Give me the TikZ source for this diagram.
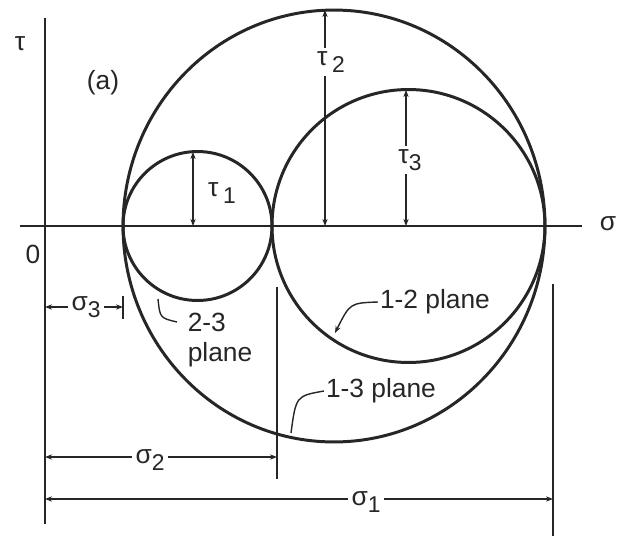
\documentclass[tikz,border=0pt]{standalone}
\usepackage{fontspec}
\setmainfont{Liberation Sans}
\usetikzlibrary{positioning, arrows.meta, calc}
\newcommand{\lo}[1]{\raisebox{-0.5ex}{\fontsize{13}{15}\selectfont #1}}

\begin{document}
\begin{tikzpicture}[
  x=0.02cm, y=-0.02cm,
  axis/.style={line width=0.9pt, draw=black!85},
  circ/.style={line width=1.7pt, draw=black!85},
  dim/.style={line width=0.7pt, draw=black!85,
              {Stealth[length=4pt,width=3pt]}-{Stealth[length=4pt,width=3pt]}},
  ext/.style={line width=0.7pt, draw=black!85},
  lead/.style={line width=0.8pt, draw=black!85},
  lbl/.style={font=\fontsize{15}{17}\selectfont, text=black!85, inner sep=1pt},
  cut/.style={lbl, fill=white, inner sep=2pt},
]
  \useasboundingbox (0,0) rectangle (627,545);

  % axes
  \coordinate (O) at (45,226);
  \coordinate (sEnd) at (582,226);
  \coordinate (sBeg) at (20,226);
  \coordinate (tTop) at (45,18);
  \coordinate (tBot) at (45,524);
  \draw[axis] (sBeg) -- (sEnd);
  \draw[axis] (tBot) -- (tTop);
  \node[lbl] (tau) at (20,44) {τ};
  \node[lbl] (sig) at (608,224) {σ};
  \node[lbl] (zero) at (33,254) {0};
  \node[lbl] (fa) at (103,83) {(a)};

  % Mohr circles
  \coordinate (c23) at (197.5,226);
  \coordinate (c12) at (408.5,226);
  \coordinate (c13) at (334,226);
  \draw[circ] (c13) ellipse[x radius=4.22cm, y radius=4.32cm];
  \draw[circ] (c12) circle[radius=2.73cm];
  \draw[circ] (c23) circle[radius=1.49cm];

  % shear stress radii
  \coordinate (t1a) at (193,152);
  \coordinate (t1b) at (193,226);
  \coordinate (t2a) at (325,10);
  \coordinate (t2b) at (325,226);
  \coordinate (t3a) at (406,90);
  \coordinate (t3b) at (406,226);
  \draw[dim] (t1a) -- (t1b);
  \draw[dim] (t2a) -- (t2b);
  \draw[dim] (t3a) -- (t3b);
  \node[lbl] (tau1) at (222,193) {τ\,\lo{1}};
  \node[cut] (tau2) at (331,62) {τ\,\lo{2}};
  \node[cut] (tau3) at (410,160) {τ\lo{3}};

  % normal stress dimensions
  \coordinate (s3a) at (45,307);
  \coordinate (s3b) at (123,307);
  \draw[dim] (s3a) -- (s3b);
  \draw[ext] (123,296) -- (123,319);
  \node[cut] (sig3) at (86,307) {σ\lo{3}};

  \coordinate (x2a) at (277,287);
  \coordinate (x2b) at (277,479);
  \draw[ext] (x2a) -- (x2b);
  \coordinate (s2a) at (45,457);
  \coordinate (s2b) at (277,457);
  \draw[dim] (s2a) -- (s2b);
  \node[cut] (sig2) at (150,460) {σ\lo{2}};

  \coordinate (x1a) at (553,284);
  \coordinate (x1b) at (553,536);
  \draw[ext] (x1a) -- (x1b);
  \coordinate (s1a) at (45,499);
  \coordinate (s1b) at (553,499);
  \draw[dim] (s1a) -- (s1b);
  \node[cut] (sig1) at (366,502) {σ\lo{1}};

  % plane labels
  \node[lbl, align=left] (p23) at (220,340) {2-3\\plane};
  \node[lbl] (p12) at (435,302) {1-2 plane};
  \node[lbl] (p13) at (381,391) {1-3 plane};

  \coordinate (k23) at (158,299);
  \coordinate (h23) at (177,322);
  \draw[lead] (h23) .. controls (160,318) .. (k23);
  \coordinate (k12) at (335,333);
  \draw[lead, -{Stealth[length=4pt,width=3pt]}] (p12.west) .. controls (350,303) .. (k12);
  \coordinate (k13) at (291,433);
  \draw[lead] (p13.west) .. controls (296,396) .. (k13);
\end{tikzpicture}
\end{document}
